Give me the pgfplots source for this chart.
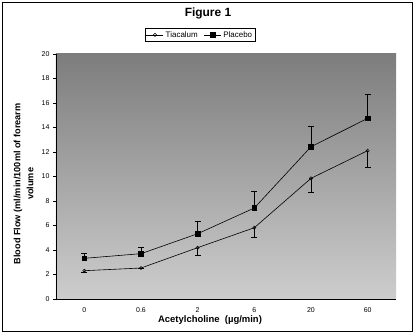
\documentclass[border=0pt]{standalone}
\usepackage{fontspec}
\setmainfont{Liberation Sans}
\usepackage{pgfplots}
\pgfplotsset{compat=1.18}
\begin{document}
\begin{tikzpicture}
\useasboundingbox (-56bp,-36bp) rectangle (360bp,299bp);
\draw[line width=0.9bp] (-54bp,-32bp) rectangle (356bp,297bp);
\node[font=\bfseries\fontsize{12}{13}\selectfont] at (152bp,286bp) {Figure 1};
\begin{axis}[
  at={(0,0)}, anchor=south west,
  scale only axis, width=340bp, height=245bp,
  xmin=-0.5, xmax=5.5, ymin=0, ymax=20,
  axis x line*=bottom, axis y line*=left,
  axis line style={line width=0.6bp},
  axis background/.style={shade, top color={rgb,255:red,125;green,125;blue,125}, bottom color={rgb,255:red,205;green,205;blue,205}},
  xtick={0,1,2,3,4,5},
  xticklabels={0,0.6,2,6,20,60},
  minor xtick={-0.5,0.5,1.5,2.5,3.5,4.5,5.5},
  ytick={0,2,...,20},
  tick align=outside,
  major tick length=3bp, minor tick length=3bp,
  xtick style={draw=none},
  minor x tick style={black, line width=0.5bp},
  ytick style={black, line width=0.5bp},
  /pgf/number format/assume math mode=true,
  tick label style={font=\fontsize{7}{8}\selectfont},
  xticklabel style={yshift=-2bp},
  xlabel={Acetylcholine\ \ (µg/min)},
  xlabel style={font=\bfseries\fontsize{9.5}{11}\selectfont, at={(axis description cs:0.453,0)}, anchor=north, yshift=-13bp},
  ylabel={Blood Flow (ml/min/100ml of forearm\\volume},
  ylabel style={font=\bfseries\fontsize{9.2}{13}\selectfont, align=center, at={(axis description cs:-0.095,0.47)}, anchor=center},
  legend style={at={(axis description cs:0.424,1.078)}, anchor=center, draw=black, line width=0.6bp, fill=white, legend columns=2, font=\fontsize{8}{8.5}\selectfont, inner sep=1pt, row sep=0pt, /tikz/every even column/.append style={column sep=4bp}},
  legend image post style={line width=0.6bp},
  legend image code/.code={\draw[mark repeat=2,mark phase=2] plot coordinates {(0cm,0cm) (0.3cm,0cm) (0.6cm,0cm)};},
]
\addplot+[black, line width=0.6bp, mark=o, mark size=1.6bp, mark options={fill=white, solid, line width=0.5bp},
  error bars/.cd, y dir=minus, y explicit, error bar style={line width=0.7bp, black}, error mark options={rotate=90, mark size=3bp, line width=0.7bp}]
  table[x=x, y=y, y error=e] {
x y e
0 2.31 0.15
1 2.53 0.0
2 4.19 0.60
3 5.82 0.76
4 9.85 1.14
5 12.11 1.33
};
\addlegendentry{Tiacalum}
\addplot+[black, line width=0.6bp, mark=square*, mark size=2.3bp, mark options={fill=black, solid},
  error bars/.cd, y dir=plus, y explicit, error bar style={line width=0.7bp, black}, error mark options={rotate=90, mark size=3bp, line width=0.7bp}]
  table[x=x, y=y, y error=e] {
x y e
0 3.32 0.41
1 3.70 0.52
2 5.33 1.04
3 7.43 1.39
4 12.43 1.67
5 14.75 1.96
};
\addlegendentry{Placebo}
\end{axis}
\end{tikzpicture}
\end{document}
